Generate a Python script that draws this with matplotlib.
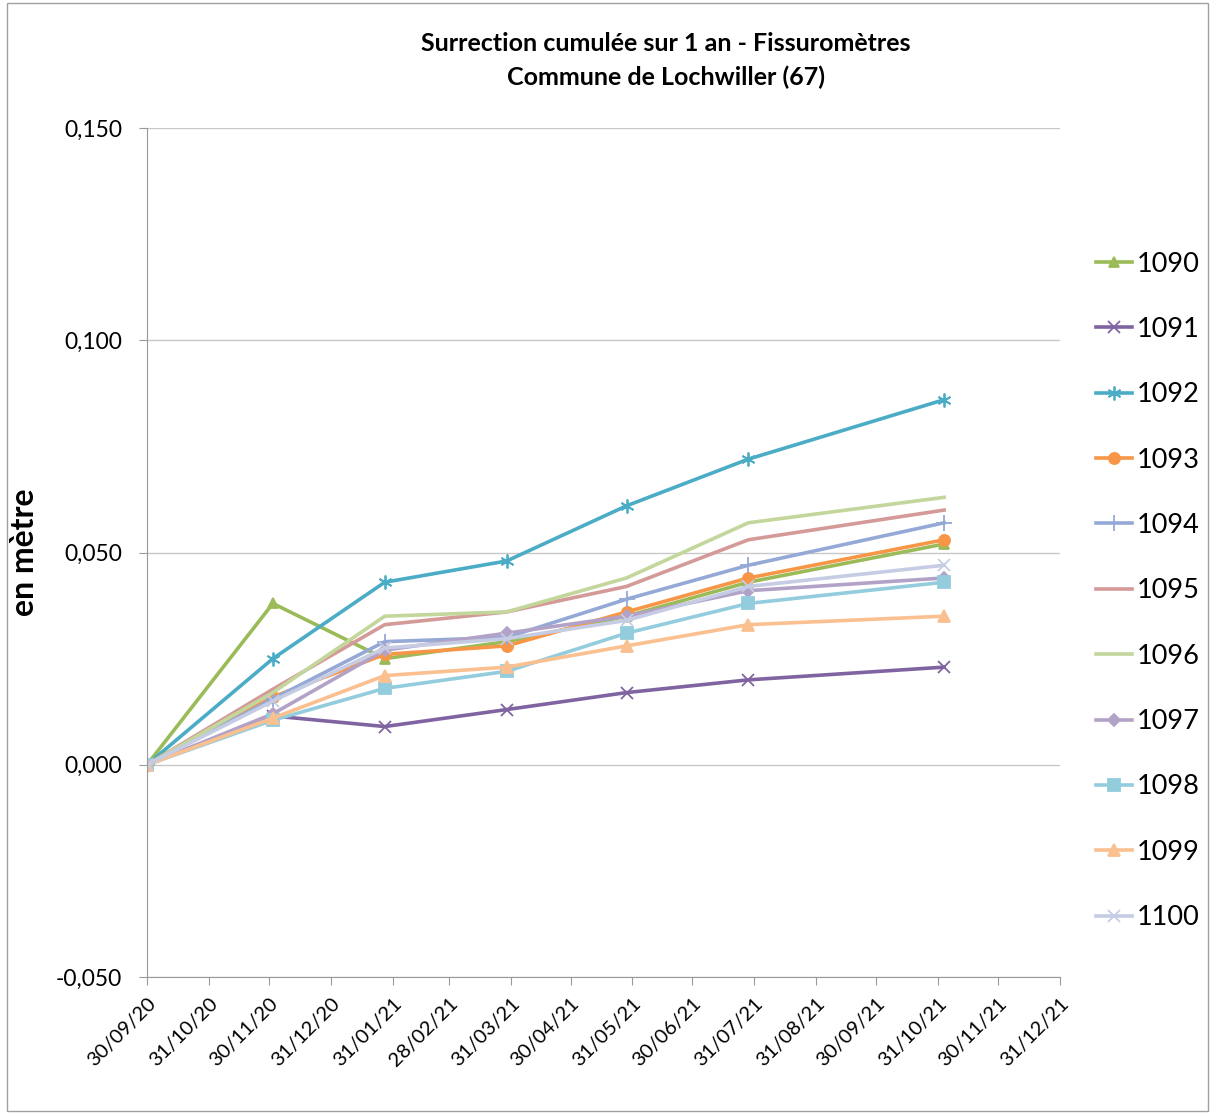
import datetime as dt
import matplotlib
matplotlib.use('Agg')
import matplotlib.pyplot as plt
import matplotlib.dates as mdates
import pandas as pd

# police proche de Calibri
plt.rcParams['font.family'] = ['Lato', 'DejaVu Sans']

# dates de mesure
dates = [dt.date(2020, 9, 30), dt.date(2020, 12, 2), dt.date(2021, 1, 27), dt.date(2021, 3, 29),
         dt.date(2021, 5, 28), dt.date(2021, 7, 28), dt.date(2021, 11, 3)]

# surrection cumulée (m) par fissuromètre
s1090 = [0.0, 0.038, 0.025, 0.029, 0.035, 0.043, 0.052]
s1091 = [0.0, 0.0115, 0.009, 0.013, 0.017, 0.020, 0.023]
s1092 = [0.0, 0.025, 0.043, 0.048, 0.061, 0.072, 0.086]
s1093 = [0.0, 0.016, 0.026, 0.028, 0.036, 0.044, 0.053]
s1094 = [0.0, 0.0155, 0.029, 0.030, 0.039, 0.047, 0.057]
s1095 = [0.0, 0.0178, 0.033, 0.036, 0.042, 0.053, 0.060]
s1096 = [0.0, 0.017, 0.035, 0.036, 0.044, 0.057, 0.063]
s1097 = [0.0, 0.012, 0.027, 0.031, 0.035, 0.041, 0.044]
s1098 = [0.0, 0.0105, 0.018, 0.022, 0.031, 0.038, 0.043]
s1099 = [0.0, 0.011, 0.021, 0.023, 0.028, 0.033, 0.035]
s1100 = [0.0, 0.015, 0.0275, 0.0297, 0.034, 0.042, 0.047]

series = [
    ('1090', s1090, '#9BBB59', '^', 7),
    ('1091', s1091, '#8064A2', 'x', 8),
    ('1092', s1092, '#4BACC6', (6, 2, 0), 10),
    ('1093', s1093, '#F79646', 'o', 8),
    ('1094', s1094, '#95A9D6', '+', 12),
    ('1095', s1095, '#D49A98', None, 0),
    ('1096', s1096, '#C3D69B', None, 0),
    ('1097', s1097, '#B3A2C7', 'D', 6),
    ('1098', s1098, '#93CDDD', 's', 8),
    ('1099', s1099, '#FAC090', '^', 8),
    ('1100', s1100, '#C5CCE4', 'x', 9),
]

fig = plt.figure(figsize=(12.13, 11.19), dpi=100)
ax = fig.add_axes([0.1212, 0.1269, 0.7527, 0.7587])

for label, values, color, marker, ms in series:
    ax.plot(dates, values, color=color, lw=2.6, marker=marker, markersize=ms,
            markeredgecolor=color, markerfacecolor=color, markeredgewidth=1.3, label=label)

# axe des dates : fin de chaque mois
ticks = pd.date_range('2020-09-30', '2021-12-31', freq='ME')
ax.set_xticks(ticks)
ax.xaxis.set_major_formatter(mdates.DateFormatter('%d/%m/%y'))
ax.set_xlim(ticks[0], ticks[-1])
plt.setp(ax.get_xticklabels(), rotation=45, ha='right', rotation_mode='anchor', fontsize=14.5)

ax.set_ylim(-0.05, 0.15)
ax.set_yticks([-0.05, 0.0, 0.05, 0.10, 0.15])
ax.set_yticklabels(['-0,050', '0,000', '0,050', '0,100', '0,150'], fontsize=16.5)
ax.yaxis.grid(True, color='#C8C8C8', lw=1)
ax.set_axisbelow(True)

for side in ['top', 'right']:
    ax.spines[side].set_visible(False)
for side in ['left', 'bottom']:
    ax.spines[side].set_color('#9A9A9A')
ax.tick_params(axis='x', color='#9A9A9A', length=6, pad=7)
ax.tick_params(axis='y', color='#9A9A9A', length=6, pad=12)

ax.set_ylabel('en mètre', fontsize=23, fontweight='bold', labelpad=12)

fig.text(0.549, 0.961, 'Surrection cumulée sur 1 an - Fissuromètres', ha='center', va='center',
         fontsize=18, fontweight='bold')
fig.text(0.549, 0.931, 'Commune de Lochwiller (67)', ha='center', va='center',
         fontsize=18, fontweight='bold')

fig.legend(loc='center left', bbox_to_anchor=(0.895, 0.472), frameon=False, fontsize=19.5,
           handlelength=1.3, handletextpad=0.2, labelspacing=1.49, borderaxespad=0)

# cadre du graphique
fig.patches.append(plt.Rectangle((0.006, 0.007), 0.99, 0.99, transform=fig.transFigure,
                                 fill=False, edgecolor='#A0A0A0', lw=1))

fig.savefig('out.png', dpi=100)
